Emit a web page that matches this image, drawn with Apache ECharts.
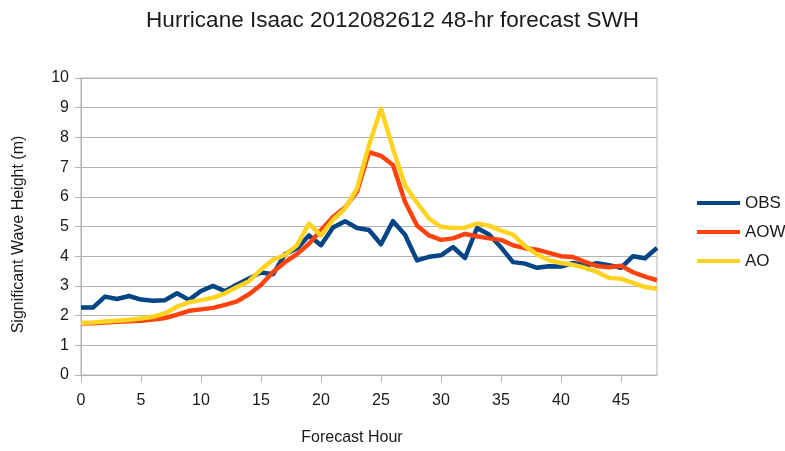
<!DOCTYPE html>
<html>
<head>
<meta charset="utf-8">
<script src="https://cdn.jsdelivr.net/npm/echarts@6/dist/echarts.min.js"></script>
<style>
    html, body { margin: 0; padding: 0; background: #fff; }
    #chart { width: 785px; height: 451px; }
</style>
</head>
<body>
<div id="chart"></div>
<script>
// forecast hours 0..48
var hours = [0, 1, 2, 3, 4, 5, 6, 7, 8, 9, 10, 11, 12, 13, 14, 15, 16, 17, 18, 19, 20, 21, 22, 23, 24,
    25, 26, 27, 28, 29, 30, 31, 32, 33, 34, 35, 36, 37, 38, 39, 40, 41, 42, 43, 44, 45, 46, 47, 48];

var obs = [2.27, 2.27, 2.64, 2.56, 2.66, 2.54, 2.5, 2.52, 2.75, 2.53, 2.83, 3.0, 2.82, 3.05, 3.25, 3.45, 3.39, 4.07, 4.26, 4.7, 4.37,
    4.97, 5.18, 4.95, 4.88, 4.4, 5.18, 4.72, 3.86, 3.98, 4.03, 4.31, 3.94, 4.95, 4.73, 4.3, 3.8, 3.75, 3.61, 3.66,
    3.65, 3.77, 3.69, 3.76, 3.7, 3.61, 4.0, 3.93, 4.28];

var aow = [1.74, 1.74, 1.77, 1.79, 1.81, 1.83, 1.87, 1.92, 2.03, 2.16, 2.21, 2.26, 2.36, 2.48, 2.72, 3.03, 3.47, 3.8, 4.07, 4.42, 4.87,
    5.32, 5.64, 6.17, 7.5, 7.38, 7.07, 5.83, 5.03, 4.7, 4.55, 4.6, 4.75, 4.67, 4.6, 4.55, 4.37, 4.27, 4.22, 4.11,
    4.0, 3.97, 3.81, 3.67, 3.63, 3.68, 3.46, 3.31, 3.19];

var ao = [1.76, 1.77, 1.8, 1.83, 1.86, 1.9, 1.96, 2.08, 2.3, 2.45, 2.52, 2.6, 2.75, 2.96, 3.16, 3.55, 3.88, 4.04, 4.37, 5.1, 4.7,
    5.22, 5.6, 6.28, 7.74, 8.97, 7.62, 6.39, 5.8, 5.27, 4.99, 4.95, 4.96, 5.1, 5.03, 4.86, 4.73, 4.34, 4.06, 3.86,
    3.77, 3.71, 3.61, 3.47, 3.27, 3.24, 3.1, 2.96, 2.9];

var seriesNames = ['OBS', 'AOW', 'AO'];
var seriesColors = ['#004586', '#ff420e', '#ffd320'];

function pairs(values) {
    var out = [];
    for (var i = 0; i < hours.length; i++) {
        out.push([hours[i], values[i]]);
    }
    return out;
}

var myChart = echarts.init(document.getElementById('chart'), null, {renderer: 'canvas'});
var fontName = '"Liberation Sans", Arial, sans-serif';
var option = {
    animation: false,
    backgroundColor: '#ffffff',
    textStyle: {fontFamily: fontName},
    title: {
        text: 'Hurricane Isaac 2012082612 48-hr forecast SWH',
        left: 'center',
        top: 4,
        textStyle: {fontFamily: fontName, fontSize: 22.5, fontWeight: 'normal', color: '#1a1a1a'}
    },
    legend: {
        orient: 'vertical',
        left: 692,
        top: 188,
        icon: 'rect',
        itemWidth: 43,
        itemHeight: 4,
        itemGap: 9,
        textStyle: {fontFamily: fontName, fontSize: 17, color: '#1a1a1a', lineHeight: 20},
        data: seriesNames
    },
    grid: {
        left: 81,
        right: 128,
        top: 78,
        bottom: 74,
        show: true,
        borderColor: '#b3b3b3',
        borderWidth: 1,
        containLabel: false
    },
    xAxis: {
        type: 'value',
        min: 0,
        max: 48,
        interval: 5,
        name: 'Forecast Hour',
        nameLocation: 'middle',
        nameGap: 55,
        nameTextStyle: {fontFamily: fontName, fontSize: 16, color: '#1a1a1a', padding: [0, 34, 0, 0]},
        axisLine: {show: true, lineStyle: {color: '#b3b3b3'}},
        axisTick: {show: true, length: 7, lineStyle: {color: '#b3b3b3'}},
        axisLabel: {fontFamily: fontName, fontSize: 16, color: '#1a1a1a', margin: 18, showMaxLabel: false},
        splitLine: {show: false}
    },
    yAxis: {
        type: 'value',
        min: 0,
        max: 10,
        interval: 1,
        name: 'Significant Wave Height (m)',
        nameLocation: 'middle',
        nameGap: 54,
        nameTextStyle: {fontFamily: fontName, fontSize: 16, color: '#1a1a1a', padding: [0, 16, 0, 0]},
        axisLine: {show: true, lineStyle: {color: '#b3b3b3'}},
        axisTick: {show: true, length: 6, lineStyle: {color: '#b3b3b3'}},
        axisLabel: {fontFamily: fontName, fontSize: 16, color: '#1a1a1a', margin: 12},
        splitLine: {show: true, lineStyle: {color: '#b3b3b3', width: 1}}
    },
    series: [obs, aow, ao].map(function (values, idx) {
        return {
            name: seriesNames[idx],
            type: 'line',
            data: pairs(values),
            showSymbol: false,
            symbol: 'none',
            color: seriesColors[idx],
            lineStyle: {width: 4.5, color: seriesColors[idx], join: 'round'},
            z: 2 + idx
        };
    })
};
myChart.setOption(option, true);
</script>
</body>
</html>
